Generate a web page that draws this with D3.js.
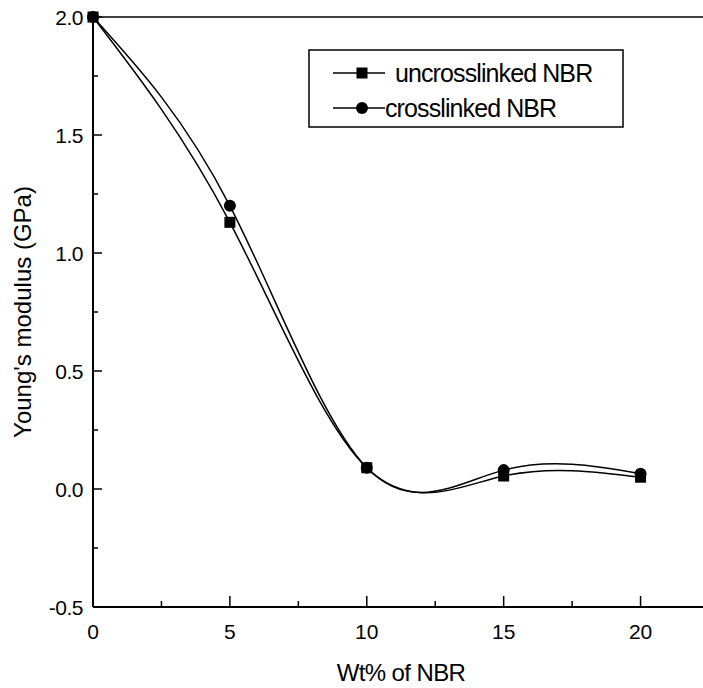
<!DOCTYPE html>
<html>
<head>
<meta charset="utf-8">
<script src="https://cdn.jsdelivr.net/npm/d3@7"></script>
<style>
  body { margin: 0; background: #fff; }
  text { font-family: "Liberation Sans", Arial, sans-serif; fill: #000; }
</style>
</head>
<body>
<div id="chart"></div>
<script>
// Data
const wtPercent = [0, 5, 10, 15, 20];
const uncrosslinked = [2.0, 1.13, 0.09, 0.055, 0.05];
const crosslinked = [2.0, 1.20, 0.09, 0.08, 0.065];
const xTicks = [0, 5, 10, 15, 20];
const yTicks = [-0.5, 0.0, 0.5, 1.0, 1.5, 2.0];

const width = 703, height = 688;
const margin = { left: 93, top: 17, right: 0, bottom: 81 };

const svg = d3.select("#chart").append("svg")
    .attr("width", width)
    .attr("height", height);

// Scales
const x = d3.scaleLinear().domain([0, 22.5]).range([margin.left, 709]);
const y = d3.scaleLinear().domain([-0.5, 2.0]).range([height - margin.bottom, margin.top]);

// Frame: top line
svg.append("line")
    .attr("x1", x(0)).attr("x2", width)
    .attr("y1", y(2.0)).attr("y2", y(2.0))
    .attr("stroke", "#000").attr("stroke-width", 1.5);

// X axis (ticks pointing inward)
const xAxis = svg.append("g").attr("transform", `translate(0,${y(-0.5)})`);
xAxis.append("line")
    .attr("x1", x(0)).attr("x2", width)
    .attr("stroke", "#000").attr("stroke-width", 2);
xAxis.selectAll(".minor")
    .data(d3.range(0, 22.6, 2.5))
    .enter().append("line")
    .attr("x1", d => x(d)).attr("x2", d => x(d))
    .attr("y1", 0).attr("y2", d => d % 5 === 0 ? -11 : -6)
    .attr("stroke", "#000").attr("stroke-width", 1.5);
xAxis.selectAll(".lbl")
    .data(xTicks)
    .enter().append("text")
    .attr("x", d => x(d)).attr("y", 32)
    .attr("text-anchor", "middle")
    .style("font-size", "21px")
    .text(d => d);

// Y axis
const yAxis = svg.append("g").attr("transform", `translate(${x(0)},0)`);
yAxis.append("line")
    .attr("y1", y(-0.5)).attr("y2", y(2.0))
    .attr("stroke", "#000").attr("stroke-width", 2);
yAxis.selectAll(".minor")
    .data(d3.range(-0.5, 2.01, 0.25))
    .enter().append("line")
    .attr("y1", d => y(d)).attr("y2", d => y(d))
    .attr("x1", 0).attr("x2", (d, i) => i % 2 === 0 ? 9 : 5)
    .attr("stroke", "#000").attr("stroke-width", 1.5);
yAxis.selectAll(".lbl")
    .data(yTicks)
    .enter().append("text")
    .attr("x", -10).attr("y", d => y(d))
    .attr("dy", "0.36em")
    .attr("text-anchor", "end")
    .style("font-size", "21px")
    .style("letter-spacing", "-0.5px")
    .text(d => d.toFixed(1));

// Axis titles
svg.append("text")
    .attr("x", 401).attr("y", 681)
    .attr("text-anchor", "middle")
    .style("font-size", "24px")
    .style("letter-spacing", "-0.6px")
    .text("Wt% of NBR");

svg.append("text")
    .attr("transform", `translate(31,${(y(2) + y(-0.5)) / 2}) rotate(-90)`)
    .attr("text-anchor", "middle")
    .style("font-size", "24px")
    .text("Young's modulus (GPa)");

// Curves
const line = d3.line()
    .x((d, i) => x(wtPercent[i]))
    .y(d => y(d))
    .curve(d3.curveNatural);

[uncrosslinked, crosslinked].forEach(series => {
    svg.append("path")
        .datum(series)
        .attr("d", line)
        .attr("fill", "none")
        .attr("stroke", "#000")
        .attr("stroke-width", 1.5);
});

// Markers
svg.selectAll(".sq")
    .data(uncrosslinked)
    .enter().append("rect")
    .attr("x", (d, i) => x(wtPercent[i]) - 5.5)
    .attr("y", d => y(d) - 5.5)
    .attr("width", 11).attr("height", 11)
    .attr("fill", "#000");

svg.selectAll(".ci")
    .data(crosslinked)
    .enter().append("circle")
    .attr("cx", (d, i) => x(wtPercent[i]))
    .attr("cy", d => y(d))
    .attr("r", 6)
    .attr("fill", "#000");

// Legend
const legend = svg.append("g").attr("transform", "translate(309,50)");
legend.append("rect")
    .attr("width", 314).attr("height", 77)
    .attr("fill", "#fff").attr("stroke", "#000").attr("stroke-width", 1.5);

const legendData = [
    { label: "uncrosslinked NBR", shape: "square", dy: 23, tx: 86 },
    { label: "crosslinked NBR", shape: "circle", dy: 58, tx: 76 }
];

legendData.forEach(d => {
    legend.append("line")
        .attr("x1", 24).attr("x2", 76)
        .attr("y1", d.dy).attr("y2", d.dy)
        .attr("stroke", "#000").attr("stroke-width", 1.5);
    if (d.shape === "square") {
        legend.append("rect")
            .attr("x", 47.5).attr("y", d.dy - 5.5)
            .attr("width", 11).attr("height", 11)
            .attr("fill", "#000");
    } else {
        legend.append("circle")
            .attr("cx", 53).attr("cy", d.dy).attr("r", 6)
            .attr("fill", "#000");
    }
    legend.append("text")
        .attr("x", d.tx).attr("y", d.dy)
        .attr("dy", "0.36em")
        .style("font-size", "25px")
        .style("letter-spacing", "-0.9px")
        .text(d.label);
});
</script>
</body>
</html>
